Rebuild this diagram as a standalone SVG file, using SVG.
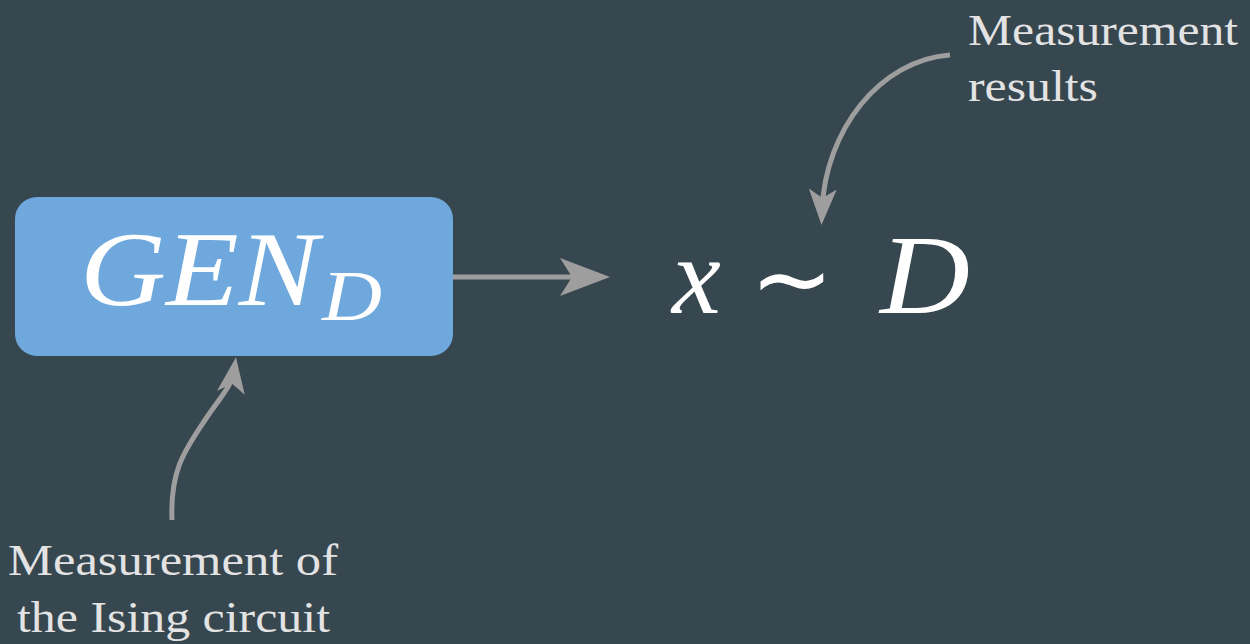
<svg xmlns="http://www.w3.org/2000/svg" width="1250" height="644" viewBox="0 0 1250 644">
<defs>
<style>
.lbl{font-family:"Liberation Serif","DejaVu Serif",serif;font-size:44px;fill:#e3e3e3}
.math{font-family:"Liberation Serif","DejaVu Serif",serif;font-style:italic;fill:#ffffff}
.con{fill:none;stroke:#9e9e9e;stroke-width:5}
</style>
<marker id="ahBig" markerUnits="userSpaceOnUse" markerWidth="52" markerHeight="40" refX="15" refY="19" orient="auto" viewBox="0 0 52 40">
<path d="M0,0 L50,19 L0,38 L12,19 Z" fill="#9e9e9e"/>
</marker>
<marker id="ah" markerUnits="userSpaceOnUse" markerWidth="40" markerHeight="30" refX="22" refY="14" orient="auto" viewBox="0 0 40 30">
<path d="M0,0 L36,14 L0,28 L9,14 Z" fill="#9e9e9e"/>
</marker>
</defs>
<rect width="1250" height="644" fill="#37474f"/>
<g id="gen">
<rect x="15" y="197" width="438" height="159" rx="22" fill="#6fa8dc"/>
<text class="math" x="80" y="305" font-size="106" textLength="238" lengthAdjust="spacingAndGlyphs">GEN</text>
<text class="math" x="322" y="320" font-size="72" textLength="60" lengthAdjust="spacingAndGlyphs">D</text>
</g>
<g id="dist">
<text class="math" x="672" y="313" font-size="110">x</text>
<text x="792" y="313" font-size="100" fill="#ffffff" font-family="'Liberation Serif',serif" text-anchor="middle">∼</text>
<text class="math" x="880" y="313" font-size="112" textLength="90" lengthAdjust="spacingAndGlyphs">D</text>
</g>
<g id="label-results">
<text class="lbl" x="968" y="45" textLength="270" lengthAdjust="spacingAndGlyphs">Measurement</text>
<text class="lbl" x="968" y="101" textLength="130" lengthAdjust="spacingAndGlyphs">results</text>
</g>
<g id="label-ising">
<text class="lbl" x="8" y="575" textLength="330" lengthAdjust="spacingAndGlyphs">Measurement of</text>
<text class="lbl" x="17" y="632" textLength="313" lengthAdjust="spacingAndGlyphs">the Ising circuit</text>
</g>
<g id="connectors">
<path class="con" d="M453,277 L575,277" stroke-width="7" marker-end="url(#ahBig)"/>
<path class="con" d="M950,55 C880,60 825,130 822,211" marker-end="url(#ah)"/>
<path class="con" d="M172,520 C170,470 185,450 205,420 C222,395 232,385 234,371" marker-end="url(#ah)"/>
</g>
</svg>
